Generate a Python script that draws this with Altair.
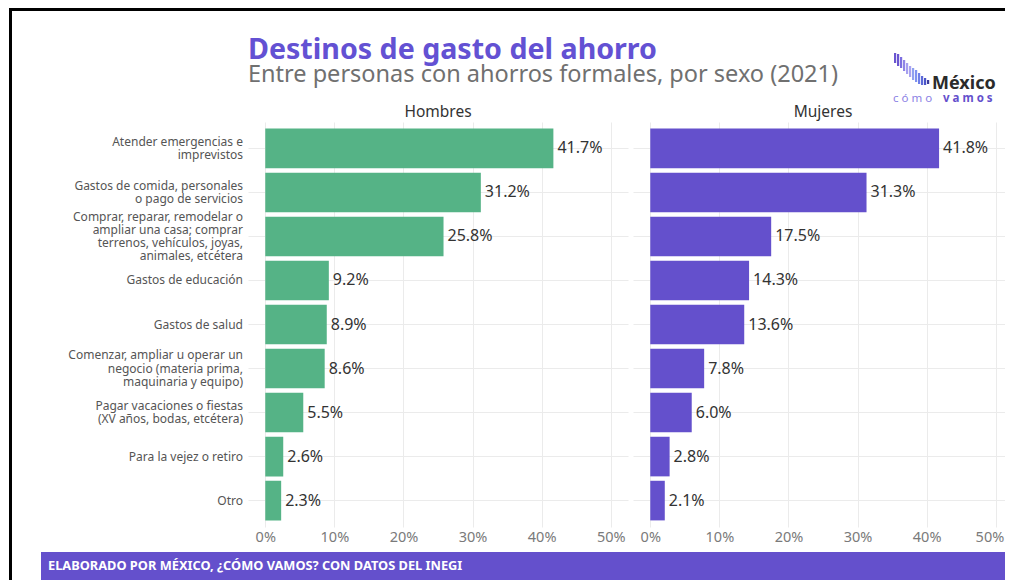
import altair as alt
import pandas as pd

# ---------------- data ----------------
CATEGORIES = [
    "Atender emergencias e|imprevistos",
    "Gastos de comida, personales|o pago de servicios",
    "Comprar, reparar, remodelar o|ampliar una casa; comprar|terrenos, vehículos, joyas,|animales, etcétera",
    "Gastos de educación",
    "Gastos de salud",
    "Comenzar, ampliar u operar un|negocio (materia prima,|maquinaria y equipo)",
    "Pagar vacaciones o fiestas|(XV años, bodas, etcétera)",
    "Para la vejez o retiro",
    "Otro",
]
HOMBRES = [41.7, 31.2, 25.8, 9.2, 8.9, 8.6, 5.5, 2.6, 2.3]
MUJERES = [41.8, 31.3, 17.5, 14.3, 13.6, 7.8, 6.0, 2.8, 2.1]
PANELS = ["Hombres", "Mujeres"]
X_TICKS = [0, 10, 20, 30, 40, 50]

TITLE = "Destinos de gasto del ahorro"
SUBTITLE = "Entre personas con ahorros formales, por sexo (2021)"
FOOTER = "ELABORADO POR MÉXICO, ¿CÓMO VAMOS? CON DATOS DEL INEGI"
LOGO_MAIN = "México"
LOGO_SUB_1 = "c ó m o"
LOGO_SUB_2 = "v a m o s"

# ---------------- style ----------------
FONT = "Noto Sans"
GREEN = "#55b386"
PURPLE = "#6450cc"
GRID = "#ebebeb"
PW, PH = 380, 405
LH = 13.3  # line height of category labels
RIGHT, BOTTOM = 1005, 580  # drawable page area (screen coords)

# logo bars (decoration, screen coords): x, top, bottom, colour
LOGO_BARS = [
    (895, 53, 63, "#6a55d0"), (898, 54, 66, "#6a55d0"), (901, 57, 68, "#7c6ee0"),
    (904, 60, 71, "#8f84e6"), (907, 63, 74, "#a69ff0"), (910, 66, 77, "#a9a3f0"),
    (913, 68, 80, "#8fa0f0"), (916, 70, 82, "#7f92f0"), (919, 73, 84, "#6f7fe8"),
    (922, 76, 85, "#5d6ad8"), (925, 78, 85, "#4c55c8"), (928, 80, 84, "#3c3c9c"),
]
OX, OY = 248, 122  # screen position of panel-1 origin


def one_row():
    return alt.Chart(pd.DataFrame({"k": [0]}))


def txt(s, sx, sy, **kw):
    """Decorative text placed at screen coords (sx, sy)."""
    return alt.Chart(pd.DataFrame({"t": [s]})).mark_text(
        font=FONT, **kw
    ).encode(text="t:N", x=alt.value(sx - OX), y=alt.value(sy - OY))


def box(x1, x2, y1, y2, color):
    return one_row().mark_rect(color=color).encode(
        x=alt.value(x1 - OX), x2=alt.value(x2 - OX),
        y=alt.value(y1 - OY), y2=alt.value(y2 - OY),
    )


def panel(values, color, name, first):
    df = pd.DataFrame({"cat": CATEGORIES, "pct": values})
    base = alt.Chart(df).transform_calculate(
        lab="format(datum.pct, '.1f') + '%'",
        nl="length(split(datum.cat, '|'))",
    )
    if first:
        l_align, l_off = "center", 0
    else:
        # keep the last tick label inside the page's right edge
        l_align = alt.condition("datum.value == 50", alt.value("right"), alt.value("center"))
        l_off = alt.condition("datum.value == 50", alt.value(8), alt.value(0))
    x = alt.X(
        "pct:Q",
        scale=alt.Scale(domain=[-2.5, 52.5], nice=False, zero=False),
        axis=alt.Axis(
            values=X_TICKS, labelExpr="datum.value + '%'", title=None,
            grid=True, gridColor=GRID, ticks=False, domain=False,
            labelFontSize=14.5, labelColor="#7a7a7a", labelPadding=3,
            labelFont=FONT, labelAlign=l_align, labelOffset=l_off,
        ),
    )
    y = alt.Y(
        "cat:N", sort=CATEGORIES,
        scale=alt.Scale(paddingInner=0.1, paddingOuter=0.15),
        axis=alt.Axis(
            title=None, ticks=False, domain=False, grid=True, gridColor=GRID,
            bandPosition=0.5, labels=False,
        ),
    )
    bars = base.mark_bar(color=color).encode(x=x, x2=alt.datum(0), y=y)
    labels = base.mark_text(
        align="left", baseline="middle", dx=4, fontSize=16, color="#333333",
        font=FONT,
    ).encode(x="pct:Q", y=alt.Y("cat:N", sort=CATEGORIES), text="lab:N")
    header = alt.Chart(pd.DataFrame({"t": [name]})).mark_text(
        align="center", baseline="alphabetic", fontSize=15.5, color="#333333",
        font=FONT,
    ).encode(text="t:N", x=alt.value(PW / 2), y=alt.value(-5))

    layers = []
    if first:
        cats = base.mark_text(
            align="right", baseline="middle", fontSize=12, color="#555555",
            font=FONT, lineBreak="|", lineHeight=LH,
            dy=alt.expr(f"-(datum.nl - 1) * {LH / 2}"),
        ).encode(x=alt.value(-5), y=alt.Y("cat:N", sort=CATEGORIES), text="cat:N")
        layers = [
            box(9, 12, 8, BOTTOM, "black"),                  # frame, left
            box(9, RIGHT, 8, 11, "black"),                   # frame, top
            txt(TITLE, 248, 59, align="left", baseline="alphabetic",
                fontSize=28.6, fontWeight="bold", color="#6351d3"),
            txt(SUBTITLE, 248, 82, align="left", baseline="alphabetic",
                fontSize=23.5, color="#707070"),
        ]
        for bx, t0, t1, c in LOGO_BARS:
            layers.append(box(bx - 1, bx + 1.2, t0, t1, c))
        layers += [
            txt(LOGO_MAIN, 932, 89, align="left", baseline="alphabetic",
                fontSize=18, fontWeight="bold", color="#2b2b2b"),
            txt(LOGO_SUB_1, 893, 102, align="left", baseline="alphabetic",
                fontSize=11.5, color="#8c82e4"),
            txt(LOGO_SUB_2, 943, 102, align="left", baseline="alphabetic",
                fontSize=11.5, fontWeight="bold", color="#6450cc"),
            box(41, RIGHT, 552, BOTTOM, PURPLE),
            txt(FOOTER, 48, 566, align="left", baseline="middle",
                fontSize=12.8, fontWeight="bold", color="white"),
            cats,
        ]
    return alt.layer(*layers, bars, labels, header).properties(width=PW, height=PH)


p1 = panel(HOMBRES, GREEN, PANELS[0], True)
p2 = panel(MUJERES, PURPLE, PANELS[1], False)

# fixed canvas: panel-1 origin at screen (248, 122); page margin is 8px
PAD = {"left": OX - 8, "top": OY - 8, "right": RIGHT - OX, "bottom": BOTTOM - OY}

chart = alt.hconcat(p1, p2, spacing=5, bounds="flush").properties(
    autosize=alt.AutoSizeParams(type="none"), padding=PAD, background="white",
).configure_view(strokeWidth=0)

chart.save("out.html", embed_options={"renderer": "svg", "actions": False})
